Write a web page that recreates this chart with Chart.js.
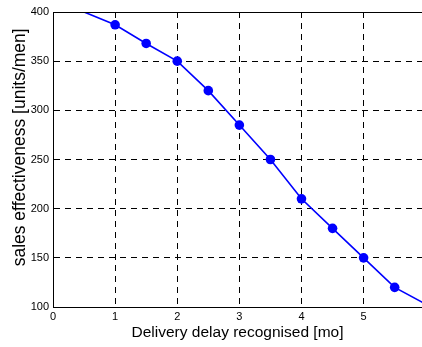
<!DOCTYPE html>
<html>
<head>
<meta charset="utf-8">
<script src="https://cdn.jsdelivr.net/npm/chart.js@4"></script>
<style>
  html, body { margin: 0; padding: 0; background: #fff; }
  #wrap { width: 422px; height: 347px; }
</style>
</head>
<body>
<div id="wrap"><canvas id="grafico" width="422" height="347"></canvas></div>
<script>
// Dados
const atrasos = [0.5, 1, 1.5, 2, 2.5, 3, 3.5, 4, 4.5, 5, 5.5, 6];
const eficacia = [400, 387, 368, 350, 320, 285, 250, 210, 180, 150, 120, 103];
const marcadores = [0, 1, 1, 1, 1, 1, 1, 1, 1, 1, 1, 0];
const ticksX = [0, 1, 2, 3, 4, 5];
const ticksY = [100, 150, 200, 250, 300, 350, 400];

const fonte = "'Liberation Sans', Arial, Helvetica, sans-serif";

// Moldura superior sólida
const moldura = {
    id: 'moldura',
    afterDraw(chart) {
        const { ctx, chartArea } = chart;
        ctx.save();
        ctx.strokeStyle = '#000';
        ctx.lineWidth = 1;
        ctx.beginPath();
        ctx.moveTo(chartArea.left, chartArea.top + 0.5);
        ctx.lineTo(chartArea.right, chartArea.top + 0.5);
        ctx.stroke();
        ctx.restore();
    }
};

new Chart(document.getElementById('grafico').getContext('2d'), {
    type: 'line',
    data: {
        datasets: [{
            data: atrasos.map((x, i) => ({ x: x, y: eficacia[i] })),
            borderColor: '#0000ff',
            backgroundColor: '#0000ff',
            borderWidth: 1.6,
            pointRadius: marcadores.map(m => m * 4.8),
            pointBorderWidth: 0,
            pointHoverRadius: 0,
            tension: 0,
            fill: false
        }]
    },
    options: {
        responsive: false,
        animation: false,
        plugins: { legend: { display: false }, tooltip: { enabled: false } },
        layout: { padding: { top: 12, right: 0, left: 0, bottom: 0 } },
        scales: {
            x: {
                type: 'linear',
                min: 0,
                max: 5.94,
                afterBuildTicks: (s) => { s.ticks = ticksX.map(v => ({ value: v })); },
                afterFit: (s) => { s.height = 40; },
                ticks: { color: '#000', font: { family: fonte, size: 11 }, padding: 3 },
                grid: { color: '#000', lineWidth: 1, drawTicks: false },
                border: { color: '#000', width: 1, dash: [6, 5] },
                title: {
                    display: true,
                    text: 'Delivery delay recognised [mo]',
                    color: '#000',
                    font: { family: fonte, size: 15.5 },
                    padding: { top: 2, bottom: 5 }
                }
            },
            y: {
                type: 'linear',
                min: 100,
                max: 400,
                afterBuildTicks: (s) => { s.ticks = ticksY.map(v => ({ value: v })); },
                afterFit: (s) => { s.width = 53; },
                ticks: { color: '#000', font: { family: fonte, size: 11 }, padding: 4 },
                grid: { color: '#000', lineWidth: 1, drawTicks: false },
                border: { color: '#000', width: 1, dash: [6, 5] },
                title: {
                    display: true,
                    // espaços iniciais deslocam o título para cima, como no original
                    text: '     sales effectiveness [units/men]',
                    color: '#000',
                    font: { family: fonte, size: 17.5 },
                    padding: { top: 10, bottom: 0 }
                }
            }
        }
    },
    plugins: [moldura]
});
</script>
</body>
</html>
